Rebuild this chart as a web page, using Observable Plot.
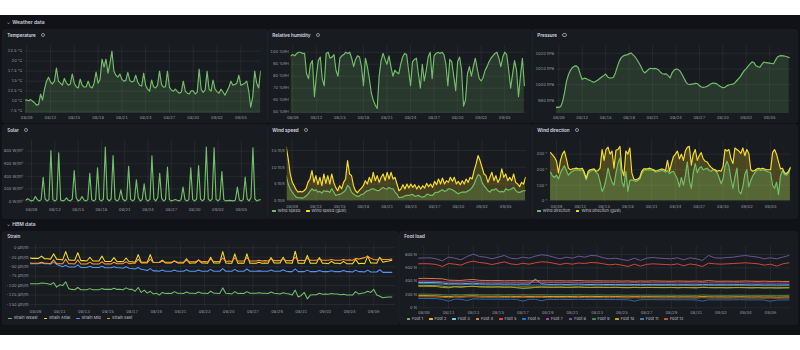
<!DOCTYPE html>
<html><head><meta charset="utf-8">
<script src="https://cdn.jsdelivr.net/npm/d3@7"></script>
<script src="https://cdn.jsdelivr.net/npm/@observablehq/plot@0.6"></script>
<style>
html,body{margin:0;padding:0;background:#fff;width:800px;height:350px;overflow:hidden;font-family:Inter,"DejaVu Sans",sans-serif}
#dash{position:absolute;left:0;top:15px;width:800px;height:320px;background:#111217}
.row{position:absolute;color:#ccccdc;font-size:5px;font-weight:600;white-space:nowrap;line-height:5px}
.row .chev{display:inline-block;margin-right:2px;font-size:4px}
.panel{position:absolute;background:#181b1f;box-shadow:0 0 0 0.6px #22252b;border-radius:2px;overflow:hidden}
.panel svg{position:absolute;left:0;top:0}
.ptitle{position:absolute;left:4.3px;top:2.6px;color:#d8d9e2;font-size:4.6px;font-weight:600;white-space:nowrap;line-height:4.6px;z-index:2}
.icon{display:inline-block;width:2.6px;height:2.6px;border:0.6px solid #8e8e9a;border-radius:50%;margin-left:5px;vertical-align:-0.3px}
.legend{position:absolute;display:flex;align-items:center;gap:6px;font-size:4px;color:#c4c5d0;white-space:nowrap;line-height:4px;z-index:3}
.legend .it{display:flex;align-items:center}
.legend .sw{display:inline-block;width:3.4px;height:1.3px;margin-right:2px;border-radius:0.5px}
</style></head><body>
<div id="dash"></div>
<script>
// ---------- x tick labels ----------
const weatherTickLabels = ["08/09","08/12","08/15","08/18","08/21","08/24","08/27","08/30","09/02","09/05"];
const hbmTickLabels = ["08/09","08/11","08/13","08/15","08/17","08/19","08/21","08/23","08/25","08/27","08/29","08/31","09/02","09/04","09/06"];

// ---------- y ticks ----------
const tempTicks = [7.5, 10, 12.5, 15, 17.5, 20, 22.5];
const humTicks = [50, 60, 70, 80, 90, 100];
const presTicks = [990, 1000, 1010, 1020];
const solarTicks = [0, 200, 400, 600, 800];
const windTicks = [0, 5, 10, 15];
const dirTicks = [0, 100, 200, 300];
const strainTicks = [0, -25, -50, -75, -100, -125, -150];
const footTicks = [0, 200, 400, 600, 800];

// ---------- 6-hourly weather & strain series (from 08/08 06:00) ----------
const temperature = [
 10.4,10.3,10.3,
 10.3,10.1,10.4,10.0, 9.6,9.0,9.2,11.8, 10.3,13.0,15.0,16.0, 14.8,14.3,15.0,18.3,
 15.0,14.5,14.0,15.7, 14.6,14.0,14.3,16.8, 14.5,13.6,13.3,15.5, 14.0,13.5,13.6,15.0,
 13.6,13.3,14.5,17.3, 14.5,15.5,20.5,18.5, 20.5,17.0,19.5,22.5, 17.5,16.5,16.0,16.8,
 15.5,15.0,15.2,17.2, 15.2,14.8,15.0,16.5, 14.8,14.0,13.8,17.0, 14.0,13.0,12.5,15.3,
 13.6,13.3,14.0,17.5, 14.2,13.5,13.6,17.5, 13.5,12.8,12.5,13.0, 12.4,12.0,12.3,15.0,
 12.5,12.0,11.8,12.6, 12.6,11.8,12.2,18.0, 13.0,12.2,12.8,17.5, 13.0,12.5,15.3,13.0,
 12.4,12.0,13.0,12.3, 11.5,12.5,13.5,15.0, 14.0,14.2,14.5,16.5, 14.0,14.2,14.5,15.0,
 12.5,8.5,11.0,17.5, 14.5,13.3,17.5
];
const humidity = [
 96,97,97,
 98,97,99,100, 100,99,99,82, 78,90,93,63, 80,93,96,78, 72,99,100,95, 96,98,85,80,
 95,97,98,100, 99,100,95,88, 94,97,96,88, 72,95,88,78, 66,60,56,53, 80,93,99,94,
 90,97,88,80, 85,83,82,90, 96,99,98,85, 72,92,94,95, 82,70,90,76, 85,96,100,78,
 97,99,100,99, 100,98,90,72, 94,92,80,68, 92,96,85,55, 60,82,88,80, 88,95,86,78,
 76,79,85,88, 92,95,97,99, 100,95,88,96, 100,98,85,70, 82,93,85,63, 80,95,72
];
const pressure = [
 985.4,985.6,985.8,
 985.7,986.2,989.5,995.5, 1002.5,1006.5,1009.2,1011.0, 1011.8,1012.0,1010.8,1006.5,
 1003.3,1004.2,1004.0,1003.2, 1002.8,1002.0,1001.6,1002.2, 1003.0,1004.0,1004.9,1005.8,
 1006.8,1005.0,1004.3,1004.3, 1004.8,1007.5,1011.5,1015.0, 1017.2,1018.2,1018.8,1019.0,
 1019.6,1020.2,1019.0,1017.8, 1016.0,1014.0,1011.8,1009.0, 1007.5,1008.6,1009.8,1010.5,
 1010.2,1010.4,1010.2,1009.5, 1008.2,1007.0,1006.8,1006.9, 1005.8,1004.4,1007.5,1009.2,
 1010.0,1009.8,1008.8,1006.8, 1004.4,1002.0,1000.5,1000.2, 1000.4,1000.6,1000.9,1000.8,
 999.5,998.6,998.4,998.6, 999.0,999.8,1000.6,1001.1, 1000.9,1000.6,999.5,998.8,
 998.2,998.3,999.3,999.9, 1000.2,1000.4,1001.0,1002.4, 1003.8,1005.2,1007.2,1009.0,
 1010.3,1011.8,1013.2,1014.5, 1014.0,1012.0,1011.4,1011.2, 1013.0,1014.4,1014.0,1013.9,
 1013.7,1013.5,1013.3,1015.6, 1017.6,1018.3,1018.5,1018.3, 1018.1,1017.8,1017.2
];
const solar = [
 20,45,25,
 10,20,80,30, 10,30,385,40, 10,30,810,30, 10,30,773,25, 10,20,58,20, 10,40,493,60,
 10,25,80,25, 10,30,450,30, 10,30,535,30, 10,35,864,40, 10,40,731,35, 10,30,185,40,
 10,30,561,35, 10,30,344,60, 10,30,280,30, 10,35,726,40, 10,60,450,50, 10,30,546,30,
 10,20,32,20, 10,30,228,30, 10,30,535,30, 10,35,572,35, 10,40,864,40, 10,40,853,35,
 10,35,477,30, 10,15,18,15, 10,25,228,25, 10,30,387,40, 10,60,853,40, 10,25,30
];
const windSpeed = [
 7.5,5.0,3.5,2.6,1.8,1.1,0.9,0.9,0.8,1.0, 1.4,2.0,2.8,3.6,3.0,3.3,2.6,2.8,2.3,3.0,
 2.8,2.9,2.5,3.6,2.6,1.6,1.8,1.9,2.2,2.6, 3.2,4.6,4.0,2.6,2.0,1.6,1.3,1.4,1.9,2.0,
 2.6,3.0,3.1,3.5,3.6,3.3,3.0,3.1,3.6,4.0, 3.6,3.5,4.0,3.6,3.6,2.6,2.0,0.9,1.0,1.1,
 1.5,1.6,1.6,1.8,1.9,1.3,1.5,1.6,1.2,1.1, 1.3,1.9,1.9,1.6,1.6,2.3,2.5,2.6,3.0,3.3,
 2.8,3.0,3.6,3.5,3.3,2.9,2.5,2.1,2.4,2.6, 2.6,2.6,3.0,3.3,4.0,5.0,6.5,7.8,7.5,5.5,
 4.5,3.8,3.0,2.6,3.3,3.2,3.6,3.0,2.6,2.8, 2.6,3.6,3.2,3.3,3.6,4.0,3.1,2.6,2.5,2.8,
 3.0,3.0
];
const windGust = [
 16.0,12.5,8.0,5.6,4.5,3.3,2.6,2.8,2.6,3.0, 3.6,5.5,6.5,9.0,5.5,7.5,4.8,7.0,4.5,8.0,
 5.2,7.5,5.0,8.0,5.5,4.0,3.0,4.5,3.6,5.5, 6.5,12.0,8.0,7.5,4.5,3.0,2.4,3.2,3.8,4.5,
 6.0,5.0,7.0,5.5,8.5,6.0,7.5,5.5,7.0,8.0, 6.0,8.5,6.5,8.5,6.5,7.0,5.0,3.0,3.5,4.8,
 3.5,5.0,3.8,5.0,4.0,4.8,3.5,4.5,3.5,4.5, 3.8,5.2,4.2,5.0,4.0,5.8,4.8,6.5,5.0,6.8,
 5.0,6.0,5.5,7.0,5.8,7.0,5.0,5.8,4.8,6.0, 5.0,6.5,5.5,7.0,6.5,9.0,11.0,13.5,12.0,10.0,
 8.0,7.5,5.5,7.0,8.5,6.0,7.5,5.5,6.5,9.5, 7.0,8.0,6.0,7.0,6.0,8.0,5.5,5.0,4.2,5.5,
 5.0,7.0
];
const windDirection = [
 185,160,150,165,140,180,205,225,195,165, 180,190,195,200,197,195,200,170,135,175,
 190,195,200,185,170,120,60,85,140,210, 160,120,100,180,240,275,120,90,190,60,
 130,135,130,125,130,140,175,195,200,198, 200,197,195,185,187,190,195,192,185,195,
 175,185,190,165,140,90,150,100,160,250, 130,80,180,240,180,210,220,200,205,210,
 195,190,200,195,180,150,110,140,220,255, 220,140,80,150,210,60,45,90,170,200,
 90,130,160,180,195,200,195,200,195,190, 185,180,100,80,120,40,160,195,170,165,
 180,210
];
const windDirectionGust = [
 310,295,280,255,180,260,300,320,270,210, 200,205,207,210,206,205,210,185,145,190,
 200,203,205,190,195,210,330,260,330,345, 300,320,210,325,330,350,200,160,320,300,
 340,180,140,135,140,150,190,205,205,206, 210,205,200,192,195,200,205,202,195,260,
 190,240,285,300,320,270,300,260,320,345, 350,230,300,330,260,290,310,270,255,250,
 230,215,205,200,190,195,190,220,330,320, 330,270,240,340,330,320,305,340,290,330,
 305,200,190,195,205,210,205,210,205,200, 200,200,310,330,300,250,205,210,180,175,
 190,215
];
const strainWeast = [
 -95,-95,-95,
 -95,-95,-93,-94, -95,-97,-92,-104, -98,-100,-90,-108, -110,-111,-105,-111, -111,-111,-108,-111,
 -111,-111,-108,-110, -110,-110,-107,-110, -110,-111,-106,-110, -110,-115,-105,-118, -112,-120,-115,-122,
 -120,-125,-118,-121, -120,-121,-116,-120, -120,-121,-117,-120, -120,-121,-117,-120, -120,-121,-115,-120,
 -120,-121,-106,-120, -121,-122,-116,-121, -120,-121,-116,-120, -120,-120,-119,-120, -120,-121,-117,-120,
 -121,-122,-119,-121, -122,-125,-112,-130, -126,-118,-135,-125, -124,-124,-120,-123, -122,-123,-121,-122,
 -122,-124,-123,-125, -125,-125,-116,-122, -120,-119,-115,-118, -110,-125,-128,-132, -131,-130,-130
];
const strainAxial = [
 -28,-27,-28,
 -28,-28,-22,-29, -29,-30,-16,-30, -31,-32,-10,-32, -33,-33,-13,-34, -34,-35,-25,-35,
 -35,-35,-22,-36, -36,-36,-26,-37, -36,-37,-27,-37, -37,-38,-18,-38, -38,-38,-18,-39,
 -39,-39,-33,-40, -40,-40,-35,-40, -40,-40,-29,-41, -40,-40,-32,-40, -40,-41,-25,-40,
 -40,-40,-10,-40, -41,-41,-16,-41, -40,-41,-16,-41, -41,-41,-38,-41, -40,-41,-26,-40,
 -40,-40,-25,-40, -40,-41,-9,-41, -41,-41,-20,-41, -41,-41,-26,-41, -41,-42,-36,-41,
 -41,-42,-36,-42, -42,-42,-31,-42, -41,-42,-22,-40, -40,-41,-25,-38, -36,-35,-33
];
const strainMid = [
 -42,-42,-42,
 -42,-42,-40,-42, -42,-43,-38,-44, -47,-50,-46,-51, -51,-51,-45,-52, -52,-52,-49,-52,
 -52,-52,-49,-53, -53,-53,-50,-53, -53,-54,-50,-54, -55,-56,-52,-57, -58,-60,-55,-61,
 -61,-62,-59,-62, -62,-62,-59,-62, -62,-62,-58,-62, -62,-62,-59,-62, -62,-62,-57,-62,
 -62,-62,-55,-62, -62,-62,-57,-62, -62,-62,-56,-62, -62,-62,-61,-62, -62,-62,-59,-62,
 -62,-62,-58,-62, -63,-63,-56,-63, -63,-63,-59,-63, -63,-63,-60,-63, -63,-63,-61,-63,
 -63,-63,-60,-63, -63,-64,-59,-63, -63,-64,-59,-64, -64,-64,-58,-65, -65,-65,-65
];
const strainEast = [
 -40,-40,-41,
 -41,-41,-38,-41, -41,-42,-32,-42, -42,-42,-30,-42, -42,-43,-32,-43, -43,-43,-38,-43,
 -43,-43,-37,-43, -42,-43,-38,-42, -42,-42,-37,-42, -41,-41,-30,-40, -40,-40,-30,-39,
 -39,-39,-35,-38, -38,-38,-35,-38, -38,-38,-33,-37, -37,-37,-33,-37, -36,-37,-30,-36,
 -36,-36,-27,-36, -35,-36,-27,-35, -35,-35,-26,-35, -35,-35,-33,-35, -34,-35,-29,-34,
 -34,-34,-29,-34, -34,-34,-25,-34, -33,-34,-28,-33, -33,-33,-30,-33, -33,-33,-31,-33,
 -33,-33,-31,-33, -32,-33,-28,-30, -28,-26,-22,-28, -31,-32,-28,-31, -31,-31,-30
];

// ---------- 12-hourly foot loads (from 08/08 12:00) ----------
const foot1 = [335,336,334,333,325,312,315,310,318,322,314,312,311,313,309,311,300,290,295,305,312,309,308,310,306,308,311,307,305,308,306,305,307,303,300,306,302,305,304,303,302,304,300,303,301,299,306,302,300,301,299,301,303,300,298,301,297,299,296,298,299];
const foot2 = [182,183,181,180,172,168,176,173,178,181,175,174,173,175,171,173,170,174,171,172,173,170,169,171,168,170,173,169,167,170,168,167,169,166,164,168,165,167,166,165,164,166,163,165,164,162,169,165,163,164,162,164,166,164,162,164,161,163,160,162,163];
const foot3 = [380,381,379,378,372,360,362,358,366,370,360,358,356,359,355,357,353,358,354,430,360,352,351,354,350,353,356,351,349,353,350,349,351,347,345,350,346,349,348,347,346,348,344,347,345,343,352,347,345,346,344,346,348,345,343,346,342,344,341,343,344];
const foot4 = [440,442,440,438,435,415,412,410,420,425,412,410,408,410,405,408,406,410,404,408,406,405,404,406,403,405,410,404,402,406,403,402,404,400,403,398,402,400,404,401,400,398,402,400,398,401,399,408,400,398,400,398,400,402,399,397,400,396,398,395,396];
const foot5 = [660,662,660,650,620,665,655,640,680,700,680,670,650,668,690,660,648,668,655,675,690,685,668,650,668,655,672,665,680,675,660,645,655,640,620,655,625,652,660,655,650,645,660,630,658,645,620,670,660,655,660,665,670,675,668,660,640,655,625,660,675];
const foot6 = [140,141,139,138,125,100,130,128,110,135,131,130,129,131,127,129,126,100,127,128,105,126,125,127,124,126,129,125,123,126,124,123,125,122,120,100,121,123,122,121,120,122,119,121,120,118,100,121,119,120,118,120,122,120,118,120,117,98,116,118,119];
const foot7 = [400,402,400,398,390,385,388,384,392,395,386,385,383,386,382,384,380,385,381,383,384,380,379,382,378,381,384,379,377,381,378,377,379,375,373,378,374,377,376,375,374,376,372,375,373,371,380,375,373,374,372,374,376,373,371,374,370,372,369,371,372];
const foot8 = [745,748,750,735,705,760,745,720,770,805,770,760,735,760,785,745,735,760,745,775,795,785,760,735,760,745,775,760,785,780,750,735,745,725,710,745,710,745,755,745,740,735,750,720,750,735,710,785,750,745,755,760,775,785,770,760,735,750,735,760,785];
const foot9 = [205,206,204,203,196,190,198,195,200,203,197,196,195,197,194,196,193,197,194,195,196,193,192,194,191,193,196,192,190,193,191,190,192,189,187,191,188,190,189,188,187,189,186,188,187,185,192,188,186,187,185,187,189,187,185,187,184,186,183,185,186];
const foot10 = [322,323,321,320,305,300,318,314,320,324,316,314,313,315,311,313,310,314,311,312,313,310,309,311,308,310,313,309,307,310,308,307,309,306,304,308,305,307,306,305,304,306,303,305,304,302,309,305,303,304,302,304,306,304,302,304,301,303,300,302,303];
const foot11 = [362,363,361,360,355,345,347,344,350,352,346,344,343,345,341,343,340,344,341,342,343,340,339,341,338,340,343,339,337,340,338,337,339,336,334,338,335,337,336,335,334,336,333,335,334,332,339,335,333,334,333,334,336,334,332,334,331,333,330,332,333];
const foot12 = [165,166,164,163,157,150,160,156,162,165,158,157,156,158,154,156,153,157,154,155,156,153,152,154,151,153,156,152,150,153,151,150,152,149,147,151,148,150,149,148,147,149,146,148,147,145,152,148,146,147,145,147,149,147,145,147,144,146,143,145,146];
const footNames = ["Foot 1","Foot 2","Foot 3","Foot 4","Foot 5","Foot 6","Foot 7","Foot 8","Foot 9","Foot 10","Foot 11","Foot 12"];
const footColors = ["#7EB26D","#EAB839","#6ED0E0","#EF843C","#E24D42","#1F78C1","#BA43A9","#705DA0","#508642","#CCA300","#447EBC","#C15C17"];
const footSeries = [foot1,foot2,foot3,foot4,foot5,foot6,foot7,foot8,foot9,foot10,foot11,foot12];

// ---------- helpers ----------
const DAY = 864e5;
const GRID_START = Date.UTC(2023, 7, 8, 6);
const FOOT_START = Date.UTC(2023, 7, 8, 12);
const REF = Date.UTC(2023, 7, 9);
const at6 = i => new Date(GRID_START + i * DAY / 4);
const at12 = i => new Date(FOOT_START + i * DAY / 2);
const ser = (arr, at) => arr.map((v, i) => ({t: at(i), v}));
const md = s => { const [m, d] = s.split("/").map(Number); return new Date(Date.UTC(2023, m - 1, d)); };
const fmtMD = d3.utcFormat("%m/%d");
const GREEN = "#73BF69", YELLOW = "#FADE2A", BLUE = "#5794F2", ORANGE = "#FF9830";

const area = (d, c, op) => Plot.areaY(d, {x: "t", y: "v", fill: c, fillOpacity: op, clip: true});
const line = (d, c, w = 1.15) => Plot.lineY(d, {x: "t", y: "v", stroke: c, strokeWidth: w, clip: true});

function rowHeader(text, y) {
  const el = document.createElement("div");
  el.className = "row";
  el.style.left = "7px"; el.style.top = (y - 2.5) + "px";
  el.innerHTML = `<span class="chev">⌄</span>${text}`;
  document.body.appendChild(el);
}

function legend(x, y, items) {
  const el = document.createElement("div");
  el.className = "legend";
  el.style.left = x + "px"; el.style.top = (y - 2) + "px";
  for (const it of items) {
    const s = document.createElement("div"); s.className = "it";
    s.innerHTML = `<span class="sw" style="background:${it.color}"></span>${it.label}`;
    el.appendChild(s);
  }
  document.body.appendChild(el);
}

function panel(p) {
  const el = document.createElement("div");
  el.className = "panel";
  Object.assign(el.style, {left: p.left + "px", top: p.top + "px", width: p.width + "px", height: p.height + "px"});
  const mL = p.plotL - p.left, mR = p.left + p.width - p.plotR;
  const mT = p.plotT - p.top, mB = p.top + p.height - p.plotB;
  const t0 = (p.plotL - p.x0) / p.pxd, t1 = (p.plotR - p.x0) / p.pxd;
  const chart = Plot.plot({
    width: p.width, height: p.height,
    marginLeft: mL, marginRight: mR, marginTop: mT, marginBottom: mB,
    style: {background: "transparent", color: "#9a9ba6", fontFamily: "Inter, sans-serif", fontSize: "4px", overflow: "visible"},
    x: {type: "utc", domain: [new Date(REF + t0 * DAY), new Date(REF + t1 * DAY)], ticks: p.xTicks.map(md),
        tickFormat: fmtMD, tickSize: 0, tickPadding: 2.5, grid: true, label: null},
    y: {domain: p.yDomain, ticks: p.yTicks, tickFormat: p.yFmt, tickSize: 0, tickPadding: p.yPad, grid: true, label: null},
    marks: p.marks
  });
  el.appendChild(chart);
  const t = document.createElement("div");
  t.className = "ptitle";
  t.innerHTML = p.title + (p.icon ? '<span class="icon"></span>' : "");
  el.appendChild(t);
  document.body.appendChild(el);
}

// ---------- build ----------
rowHeader("Weather data", 22.7);
rowHeader("HBM data", 224.4);

const dTemp = ser(temperature, at6), dHum = ser(humidity, at6), dPres = ser(pressure, at6), dSol = ser(solar, at6);
const dWs = ser(windSpeed, at6), dWg = ser(windGust, at6), dWd = ser(windDirection, at6), dWdg = ser(windDirectionGust, at6);

panel({title: "Temperature", icon: true, left: 3, top: 30, width: 264, height: 92,
  plotL: 25, plotR: 260.7, plotT: 45, plotB: 113, x0: 26.2, pxd: 7.93, xTicks: weatherTickLabels,
  yDomain: [6.925, 23.925], yTicks: tempTicks, yFmt: d => `${d} °C`, yPad: 3,
  marks: [area(dTemp, GREEN, 0.18), line(dTemp, GREEN)]});
panel({title: "Relative humidity", icon: true, left: 268, top: 30, width: 264, height: 92,
  plotL: 290.7, plotR: 525.7, plotT: 45, plotB: 113, x0: 292.3, pxd: 7.85, xTicks: weatherTickLabels,
  yDomain: [48.9, 105.6], yTicks: humTicks, yFmt: d => `${d} %RH`, yPad: 2.5,
  marks: [area(dHum, GREEN, 0.18), line(dHum, GREEN)]});
panel({title: "Pressure", icon: true, left: 533, top: 30, width: 264, height: 92,
  plotL: 556, plotR: 790.7, plotT: 45, plotB: 113, x0: 558.3, pxd: 7.81, xTicks: weatherTickLabels,
  yDomain: [981.8, 1024.9], yTicks: presTicks, yFmt: d => `${d} hPa`, yPad: 2.5,
  marks: [area(dPres, GREEN, 0.18), line(dPres, GREEN)]});

panel({title: "Solar", icon: true, left: 3, top: 125, width: 264, height: 93,
  plotL: 25.5, plotR: 260.7, plotT: 140, plotB: 205.3, x0: 31, pxd: 7.77, xTicks: weatherTickLabels,
  yDomain: [-68, 970], yTicks: solarTicks, yFmt: d => `${d} W/m²`, yPad: 2.8,
  marks: [line(dSol, GREEN)]});
panel({title: "Wind speed", icon: true, left: 268, top: 125, width: 264, height: 93,
  plotL: 286.7, plotR: 525.7, plotT: 140, plotB: 201.7, x0: 291.7, pxd: 7.91, xTicks: weatherTickLabels,
  yDomain: [-0.42, 17.98], yTicks: windTicks, yFmt: d => `${d} m/s`, yPad: 2.5,
  marks: [area(dWg, YELLOW, 0.2), area(dWs, GREEN, 0.22), line(dWs, GREEN), line(dWg, YELLOW)]});
panel({title: "Wind direction", icon: true, left: 533, top: 125, width: 264, height: 93,
  plotL: 549.3, plotR: 790.7, plotT: 140, plotB: 201.7, x0: 556, pxd: 7.93, xTicks: weatherTickLabels,
  yDomain: [-9, 388], yTicks: dirTicks, yFmt: d => `${d} °`, yPad: 2.5,
  marks: [area(dWdg, YELLOW, 0.22), area(dWd, GREEN, 0.28), line(dWd, GREEN), line(dWdg, YELLOW)]});

panel({title: "Strain", icon: false, left: 3, top: 232, width: 395, height: 92,
  plotL: 30, plotR: 395, plotT: 244.3, plotB: 307, x0: 35, pxd: 12.08, xTicks: hbmTickLabels,
  yDomain: [-157.9, 7.9], yTicks: strainTicks, yFmt: d => `${d} µm/m`, yPad: 2,
  marks: [line(ser(strainWeast, at6), GREEN, 1.05), line(ser(strainAxial, at6), YELLOW, 1.05),
          line(ser(strainMid, at6), BLUE, 1.05), line(ser(strainEast, at6), ORANGE, 1.05)]});
panel({title: "Foot load", icon: false, left: 400, top: 232, width: 397, height: 92,
  plotL: 418.3, plotR: 790, plotT: 246, plotB: 308.3, x0: 423.3, pxd: 12.38, xTicks: hbmTickLabels,
  yDomain: [-15, 920], yTicks: footTicks, yFmt: d => `${d} N`, yPad: 2,
  marks: footSeries.map((s, i) => line(ser(s, at12), footColors[i], 0.9))});

legend(272.3, 211, [{label: "Wind speed", color: GREEN}, {label: "Wind speed (gust)", color: YELLOW}]);
legend(537.3, 211, [{label: "Wind direction", color: GREEN}, {label: "Wind direction (gust)", color: YELLOW}]);
legend(8.3, 318.3, [{label: "Strain Weast", color: GREEN}, {label: "Strain Axial", color: YELLOW},
                    {label: "Strain Mid", color: BLUE}, {label: "Strain East", color: ORANGE}]);
legend(406.7, 319, footNames.map((n, i) => ({label: n, color: footColors[i]})));
</script>
</body></html>
